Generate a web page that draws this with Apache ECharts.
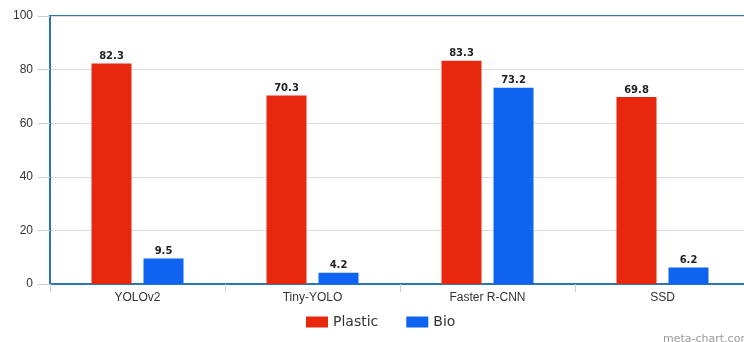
<!DOCTYPE html>
<html>
<head>
<meta charset="utf-8">
<style>
  html, body { margin: 0; padding: 0; background: #fff; overflow: hidden; }
  #chart { width: 760px; height: 342px; }
</style>
<script src="https://cdn.jsdelivr.net/npm/echarts@6/dist/echarts.min.js"></script>
</head>
<body>
<div id="chart"></div>
<script>
// Detection accuracy per model, split by material type
const categories = ['YOLOv2', 'Tiny-YOLO', 'Faster R-CNN', 'SSD'];
const plastic = [82.3, 70.3, 83.3, 69.8];
const bio = [9.5, 4.2, 73.2, 6.2];
const yTicks = [0, 20, 40, 60, 80, 100];

const chart = echarts.init(document.getElementById('chart'), null, { renderer: 'canvas' });

const labelStyle = {
  show: true,
  position: 'top',
  distance: 2,
  fontFamily: 'DejaVu Sans',
  fontSize: 10,
  fontWeight: 'bold',
  color: '#222'
};

chart.setOption({
  animation: false,
  backgroundColor: '#fff',
  textStyle: { fontFamily: 'Liberation Sans' },
  grid: {
    left: 50, top: 16, width: 700, height: 268,
    show: true,
    borderColor: '#2a77b8',
    borderWidth: 2,
    backgroundColor: 'transparent'
  },
  legend: {
    top: 310,
    left: 301,
    itemWidth: 22,
    itemHeight: 11,
    itemGap: 28,
    icon: 'rect',
    textStyle: { fontFamily: 'DejaVu Sans', fontSize: 14, color: '#333' },
    data: ['Plastic', 'Bio']
  },
  xAxis: {
    type: 'category',
    data: categories,
    axisLine: { lineStyle: { color: '#2a77b8', width: 2 } },
    axisTick: { show: true, length: 8, lineStyle: { color: '#ccc' } },
    axisLabel: { margin: 8, fontSize: 12, color: '#333', fontFamily: 'Liberation Sans' }
  },
  yAxis: {
    type: 'value',
    min: yTicks[0],
    max: yTicks[yTicks.length - 1],
    interval: 20,
    axisLine: { show: true, lineStyle: { color: '#2a77b8', width: 2 } },
    axisTick: { show: true, length: 12, lineStyle: { color: '#ccc' } },
    axisLabel: {
      margin: 17, fontSize: 12, color: '#333', fontFamily: 'Liberation Sans',
      formatter: v => (yTicks.includes(v) ? String(v) : '')
    },
    splitLine: { lineStyle: { color: '#ddd' } }
  },
  series: [
    {
      name: 'Plastic', type: 'bar', data: plastic,
      barWidth: 40, barGap: '30%',
      itemStyle: { color: '#e8270f' },
      label: labelStyle
    },
    {
      name: 'Bio', type: 'bar', data: bio,
      barWidth: 40,
      itemStyle: { color: '#0e64f0' },
      label: labelStyle
    }
  ],
  graphic: [{
    type: 'text',
    left: 663,
    top: 334,
    style: { text: 'meta-chart.com', fontSize: 11, fill: '#999', fontFamily: 'DejaVu Sans' }
  }]
});
</script>
</body>
</html>
